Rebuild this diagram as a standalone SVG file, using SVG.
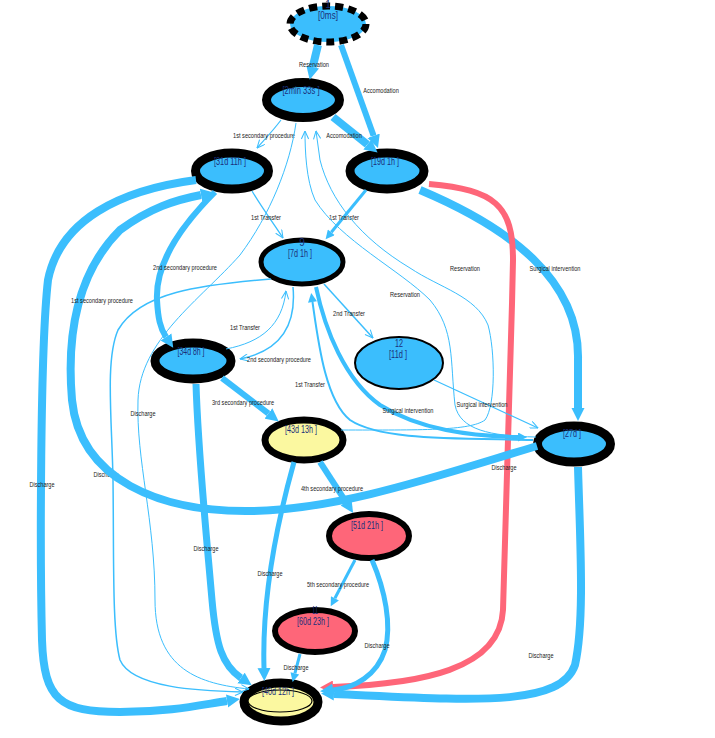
<svg xmlns="http://www.w3.org/2000/svg" width="715" height="738" viewBox="0 0 715 738">
<style>
.e{fill:none;stroke:#3bbefd;stroke-linecap:butt}
.r{fill:none;stroke:#fe6679}
.lb{font-family:"Liberation Sans",Arial,sans-serif;font-size:8px;fill:#222;text-anchor:middle}
.nt{font-family:"Liberation Sans",Arial,sans-serif;font-size:10px;fill:#1b2f7a;text-anchor:middle}
.bl{fill:#3bbefd;stroke:#000}
.rd{fill:#fe6679;stroke:#000}
.yl{fill:#fbf8a0;stroke:#000}
</style>
<defs>
<marker id="aB" markerUnits="userSpaceOnUse" viewBox="0 0 10 10" refX="0" refY="5" markerWidth="13" markerHeight="14" orient="auto"><path d="M0,0 L10,5 L0,10 z" fill="#3bbefd"/></marker>
<marker id="aM" markerUnits="userSpaceOnUse" viewBox="0 0 10 10" refX="0" refY="5" markerWidth="10" markerHeight="9" orient="auto"><path d="M0,0 L10,5 L0,10 z" fill="#3bbefd"/></marker>
<marker id="aR" markerUnits="userSpaceOnUse" viewBox="0 0 10 10" refX="0" refY="5" markerWidth="13" markerHeight="13" orient="auto"><path d="M0,0 L10,5 L0,10 z" fill="#fe6679"/></marker>
<marker id="aT" markerUnits="userSpaceOnUse" viewBox="0 0 10 10" refX="10" refY="5" markerWidth="9" markerHeight="8" orient="auto"><path d="M0,0.5 L10,5 L0,9.5" fill="none" stroke="#3bbefd" stroke-width="1.3"/></marker>
</defs>

<g id="nodes">
<g id="n1"><ellipse cx="328" cy="24" rx="38" ry="18" fill="#3bbefd" stroke="#000" stroke-width="7" stroke-dasharray="8 5"/><text class="nt" x="328" y="8" textLength="4">1</text><text class="nt" x="328" y="19" textLength="20" lengthAdjust="spacingAndGlyphs">[0ms]</text></g>
<g id="n2"><ellipse class="bl" cx="303" cy="100" rx="36.5" ry="17.5" stroke-width="9"/><text class="nt" x="301" y="94" textLength="37" lengthAdjust="spacingAndGlyphs">[2min 33s ]</text></g>
<g id="n3"><ellipse class="bl" cx="232" cy="171" rx="36.5" ry="18" stroke-width="9"/><text class="nt" x="230" y="165" textLength="32" lengthAdjust="spacingAndGlyphs">[31d 11h ]</text></g>
<g id="n4"><ellipse class="bl" cx="387" cy="171" rx="37" ry="18" stroke-width="9"/><text class="nt" x="385" y="165" textLength="28" lengthAdjust="spacingAndGlyphs">[19d 1h ]</text></g>
<g id="n5"><ellipse class="bl" cx="302" cy="262" rx="41" ry="22" stroke-width="5"/><text class="nt" x="302" y="246">9</text><text class="nt" x="300" y="257" textLength="24" lengthAdjust="spacingAndGlyphs">[7d 1h ]</text></g>
<g id="n6"><ellipse class="bl" cx="193" cy="361" rx="38" ry="18" stroke-width="9"/><text class="nt" x="191" y="355" textLength="27" lengthAdjust="spacingAndGlyphs">[34d 8h ]</text></g>
<g id="n7"><ellipse class="bl" cx="399" cy="363" rx="44" ry="26" stroke-width="2"/><text class="nt" x="399" y="347" textLength="8" lengthAdjust="spacingAndGlyphs">12</text><text class="nt" x="398" y="358" textLength="18" lengthAdjust="spacingAndGlyphs">[11d ]</text></g>
<g id="n8"><ellipse class="bl" cx="574" cy="444" rx="36.5" ry="18" stroke-width="9"/><text class="nt" x="572" y="437" textLength="18" lengthAdjust="spacingAndGlyphs">[27d ]</text></g>
<g id="n9"><ellipse class="yl" cx="304" cy="440" rx="39" ry="20" stroke-width="7"/><text class="nt" x="301" y="433" textLength="32" lengthAdjust="spacingAndGlyphs">[43d 13h ]</text></g>
<g id="n10"><ellipse class="rd" cx="369" cy="536" rx="40" ry="22" stroke-width="6"/><text class="nt" x="367" y="529" textLength="32" lengthAdjust="spacingAndGlyphs">[51d 21h ]</text></g>
<g id="n11"><ellipse class="rd" cx="315" cy="631" rx="40" ry="21" stroke-width="6"/><text class="nt" x="315" y="614" textLength="6" lengthAdjust="spacingAndGlyphs">11</text><text class="nt" x="313" y="625" textLength="32" lengthAdjust="spacingAndGlyphs">[60d 23h ]</text></g>
<g id="n12"><ellipse cx="281" cy="702" rx="37" ry="19" fill="#fbf8a0" stroke="#000" stroke-width="9"/><ellipse cx="280" cy="701" rx="32" ry="11" fill="#fbf8a0" stroke="#000" stroke-width="1.2"/><text class="nt" x="278" y="695" textLength="32" lengthAdjust="spacingAndGlyphs">[40d 12h ]</text></g>
</g>

<g id="edges">
<g><path class="e" stroke-width="8" d="M318,45 L312.7,67" marker-end="url(#aB)"/><text class="lb" x="314" y="67" textLength="30" lengthAdjust="spacingAndGlyphs">Reservation</text></g>
<g><path class="e" stroke-width="6" d="M341,45 L373.6,135.8" marker-end="url(#aB)"/><text class="lb" x="381" y="93" textLength="35.5" lengthAdjust="spacingAndGlyphs">Accomodation</text></g>
<g><path class="e" stroke-width="1.2" d="M281,120 C272,132 264,140 257,148" marker-end="url(#aT)"/><text class="lb" x="264" y="138" textLength="62" lengthAdjust="spacingAndGlyphs">1st secondary procedure</text></g>
<g><path class="e" stroke-width="8" d="M333,117 L367.4,144.5" marker-end="url(#aB)"/><text class="lb" x="344" y="138" textLength="35.5" lengthAdjust="spacingAndGlyphs">Accomodation</text></g>
<g><path class="e" stroke-width="1" d="M296,123 C290,165 270,215 240,255 C200,300 140,340 138,400 C136,460 155,520 155,600 C155,670 200,684 249,689" marker-end="url(#aT)"/><text class="lb" x="143" y="416" textLength="25" lengthAdjust="spacingAndGlyphs">Discharge</text></g>
<g><path class="e" stroke-width="1.3" d="M252,191 C262,208 274,224 283,238" marker-end="url(#aT)"/><text class="lb" x="266" y="220" textLength="30" lengthAdjust="spacingAndGlyphs">1st Transfer</text></g>
<g><path class="e" stroke-width="3" d="M366,190 L331.3,232.3" marker-end="url(#aM)"/><text class="lb" x="344" y="220" textLength="30" lengthAdjust="spacingAndGlyphs">1st Transfer</text></g>
<g><path class="e" stroke-width="8" d="M420,190 C510,228 580,280 578,360 L578,408" marker-end="url(#aB)"/><text class="lb" x="555" y="271" textLength="51" lengthAdjust="spacingAndGlyphs">Surgical intervention</text></g>
<g><path class="r" stroke-width="6" d="M429,184 C495,190 513,205 513,260 C510,400 505,550 503,610 C500,670 420,684 333,687" marker-end="url(#aR)"/><text class="lb" x="504" y="470" textLength="25" lengthAdjust="spacingAndGlyphs">Discharge</text></g>
<g><path class="e" stroke-width="6" d="M215,192 C185,222 155,260 157,300 C158,318 160,328 166,337" marker-end="url(#aB)"/><text class="lb" x="185" y="270" textLength="64" lengthAdjust="spacingAndGlyphs">2nd secondary procedure</text></g>
<g><path class="e" stroke-width="8" d="M196,180 C120,190 60,220 48,280 C40,350 40,560 42,640 C44,700 60,712 120,712 C170,712 200,705 227,701" marker-end="url(#aB)"/><text class="lb" x="42" y="487" textLength="25" lengthAdjust="spacingAndGlyphs">Discharge</text></g>
<g><path class="e" stroke-width="1.5" d="M271,279 C200,285 140,292 118,330 C105,360 112,420 113,480 C114,560 112,630 120,660 C132,688 200,691 243,692" marker-end="url(#aT)"/><text class="lb" x="106" y="477" textLength="25" lengthAdjust="spacingAndGlyphs">Discharge</text></g>
<g><path class="e" stroke-width="6" d="M320,462 L346,502" marker-end="url(#aB)"/><text class="lb" x="332" y="491" textLength="62" lengthAdjust="spacingAndGlyphs">4th secondary procedure</text></g>
<g><path class="e" stroke-width="8" d="M537,446 C440,475 340,510 250,511 C160,512 80,480 72,400 C66,330 80,270 120,230 C150,208 175,200 201,195" marker-end="url(#aB)"/><text class="lb" x="102" y="303" textLength="62" lengthAdjust="spacingAndGlyphs">1st secondary procedure</text></g>
<g><path class="e" stroke-width="1" d="M341,430 C420,430 470,431 485,420 C496,405 495,350 488,325 C476,296 440,288 410,268 C360,238 330,200 320,160 L316,131" marker-end="url(#aT)"/><text class="lb" x="465" y="271" textLength="30" lengthAdjust="spacingAndGlyphs">Reservation</text></g>
<g><path class="e" stroke-width="1" d="M536,437 C490,436 460,430 455,405 C450,360 455,330 430,300 C400,270 340,240 315,200 C306,180 305,150 305,131" marker-end="url(#aT)"/><text class="lb" x="405" y="297" textLength="30" lengthAdjust="spacingAndGlyphs">Reservation</text></g>
<g><path class="e" stroke-width="1" d="M226,349 C262,342 282,325 286,291" marker-end="url(#aT)"/><text class="lb" x="245" y="330" textLength="30" lengthAdjust="spacingAndGlyphs">1st Transfer</text></g>
<g><path class="e" stroke-width="1.5" d="M293,287 C296,320 285,350 240,359" marker-end="url(#aT)"/><text class="lb" x="279" y="362" textLength="64" lengthAdjust="spacingAndGlyphs">2nd secondary procedure</text></g>
<g><path class="e" stroke-width="1.5" d="M324,284 L373,338" marker-end="url(#aT)"/><text class="lb" x="349" y="316" textLength="32" lengthAdjust="spacingAndGlyphs">2nd Transfer</text></g>
<g><path class="e" stroke-width="4" d="M316,287 C325,330 345,380 380,405 C420,430 470,436 518,437" marker-end="url(#aM)"/><text class="lb" x="408" y="413" textLength="51" lengthAdjust="spacingAndGlyphs">Surgical intervention</text></g>
<g><path class="e" stroke-width="2" d="M533,440 C450,438 380,440 350,420 C325,400 318,340 312.5,302" marker-end="url(#aM)"/><text class="lb" x="310" y="387" textLength="30" lengthAdjust="spacingAndGlyphs">1st Transfer</text></g>
<g><path class="e" stroke-width="1.2" d="M434,380 L538,428" marker-end="url(#aT)"/><text class="lb" x="482" y="407" textLength="51" lengthAdjust="spacingAndGlyphs">Surgical intervention</text></g>
<g><path class="e" stroke-width="6" d="M222,378 L268.4,413.5" marker-end="url(#aB)"/><text class="lb" x="243" y="405" textLength="62" lengthAdjust="spacingAndGlyphs">3rd secondary procedure</text></g>
<g><path class="e" stroke-width="7" d="M196,384 C198,450 205,520 212,600 C216,645 222,665 241,678" marker-end="url(#aB)"/><text class="lb" x="206" y="551" textLength="25" lengthAdjust="spacingAndGlyphs">Discharge</text></g>
<g><path class="e" stroke-width="5" d="M294,462 C275,530 262,600 264,668" marker-end="url(#aB)"/><text class="lb" x="270" y="576" textLength="25" lengthAdjust="spacingAndGlyphs">Discharge</text></g>
<g><path class="e" stroke-width="3" d="M355,560 L334.9,598.3" marker-end="url(#aM)"/><text class="lb" x="338" y="587" textLength="62" lengthAdjust="spacingAndGlyphs">5th secondary procedure</text></g>
<g><path class="e" stroke-width="5" d="M372,560 C385,590 392,625 385,650 C377,675 355,688 333,690" marker-end="url(#aB)"/><text class="lb" x="377" y="648" textLength="25" lengthAdjust="spacingAndGlyphs">Discharge</text></g>
<g><path class="e" stroke-width="3" d="M300,654 L294.9,673.4" marker-end="url(#aM)"/><text class="lb" x="296" y="670" textLength="25" lengthAdjust="spacingAndGlyphs">Discharge</text></g>
<g><path class="e" stroke-width="8" d="M578,467 C580,540 585,620 575,665 C560,708 470,700 334,694" marker-end="url(#aB)"/><text class="lb" x="541" y="658" textLength="25" lengthAdjust="spacingAndGlyphs">Discharge</text></g>
</g>
</svg>
